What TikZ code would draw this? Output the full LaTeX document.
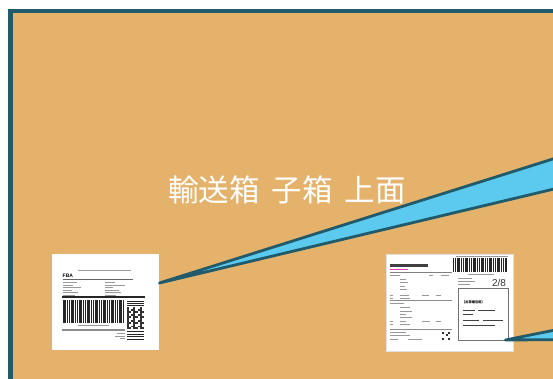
\documentclass[tikz,border=0pt]{standalone}
\usepackage{fontspec}
\setmainfont{Liberation Sans}
\newfontfamily\jpfont{Noto Sans CJK JP}
\definecolor{boxfill}{HTML}{E4B26A}
\definecolor{edgeteal}{HTML}{205A6B}
\definecolor{callblue}{HTML}{5CCAEE}
\tikzset{
  lbl/.style={fill=white, inner sep=0pt, anchor=north west},
  txt/.style={fill=black!40},
  dtxt/.style={fill=black!75},
  callout/.style={fill=callblue, draw=edgeteal, line width=2.8pt, line join=round},
}
\begin{document}
\begin{tikzpicture}[x=1pt,y=-1pt]
\clip (0,0) rectangle (553,378);
\fill[white] (0,0) rectangle (553,378);
% the box, seen from above
\draw[fill=boxfill, draw=edgeteal, line width=4.5pt] (10.25,11) rectangle (600,382);
\node[text=white, font=\jpfont\fontsize{30.5}{32}\selectfont] (title) at (287,190) {輸送箱\hspace{0.4em}子箱\hspace{0.4em}上面};

% label on the left
\node[lbl, minimum width=107pt, minimum height=96pt] (lblA) at (52,254) {};
\begin{scope}[shift={(lblA.north west)}]
  \fill[txt] (26,16) rectangle (79,17.2);
  \node[anchor=west, inner sep=0pt, font=\bfseries\fontsize{5}{5}\selectfont] (fba) at (10.5,22) {FBA};
  \draw[black!60, line width=0.6pt] (11,25.5) -- (81,25.5);
  \foreach \y/\l in {28/14,30.5/10,33/18,35.5/9,38/15,40.5/12}
    \fill[txt] (11,\y) rectangle ++(\l,0.9);
  \foreach \y/\l in {28/10,30.5/20,33/8,35.5/14,38/16,40.5/11}
    \fill[txt] (53,\y) rectangle ++(\l,0.9);
  \fill[black!85] (10,42) rectangle (93,44);
  % barcode
  \foreach \i in {0,...,30}{
    \pgfmathsetmacro\w{0.5+0.35*mod(\i*7+3,4)}
    \fill[black!85] (11+\i*2,46) rectangle ++(\w,23);
  }
  \fill[txt] (26,71) rectangle (57,72.2);
  \fill[black!45] (10,75) rectangle (73,77);
  \foreach \y/\l in {79/8,81.5/10,84/5}
    \fill[txt] (73-\l,\y) rectangle ++(\l,0.9);
  % 2d code
  \foreach \y in {47,49,51,77,79.5,82,84.5}
    \fill[black!85] (75,\y) rectangle (92,\y+1.2);
  \foreach \i in {0,...,7}
    \foreach \j in {0,...,11}{
      \pgfmathtruncatemacro\c{mod(\i*\i+3*\j+\i*\j,3)}
      \ifnum\c=0 \fill[black!80] (75+\i*2.1,53+\j*1.85) rectangle ++(2.1,1.85);\fi
    }
\end{scope}

% label on the right
\node[lbl, draw=black!12, line width=0.4pt, minimum width=127pt, minimum height=97pt] (lblB) at (386,254) {};
\begin{scope}[shift={(lblB.north west)}]
  \fill[dtxt] (4,10) rectangle (42,13);
  \fill[magenta!80] (4,15) rectangle (22,16.3);
  \draw[black!50, line width=0.6pt] (4,18.5) -- (66,18.5);
  \foreach \x/\y/\l in {4/21/10,43/21/4,55/21/8,14/24.5/6,14/28/8,14/31.5/5,14/35/7,
      4/41/3,14/41/9,36/41/7,50/41/5,4/44/3,14/44/10,4/49/14,
      14/53/10,14/56.5/12,14/60/6,14/63/12,4/67/3,14/67/6,36/67/8,50/67/5,4/70/3,14/70/10,
      4/78/16,4/81/20,4/84.5/8,22/84.5/14}
    \fill[txt] (\x,\y) rectangle ++(\l,0.9);
  \draw[black!45, line width=0.5pt] (4,46.5) -- (66,46.5);
  \draw[black!45, line width=0.5pt] (4,75.5) -- (66,75.5);
  \foreach \i in {0,...,3}
    \foreach \j in {0,...,3}{
      \pgfmathtruncatemacro\c{mod(\i*\j+\i+2*\j,3)}
      \ifnum\c=0 \fill[black!80] (56+\i*2,78+\j*2) rectangle ++(2,2);\fi
    }
  % barcode
  \fill[txt] (70,1.5) rectangle (122,2.5);
  \foreach \i in {0,...,26}{
    \pgfmathsetmacro\w{0.5+0.35*mod(\i*5+1,4)}
    \fill[black!85] (67+\i*2,4) rectangle ++(\w,14);
  }
  \fill[txt] (82,20) rectangle (108,21);
  \foreach \y/\l in {23.5/14,26.5/17,29.5/12}
    \fill[txt] (72,\y) rectangle ++(\l,0.9);
  \node[inner sep=0pt, font=\fontsize{10}{10}\selectfont, text=black!80] (pkgno) at (113,28.5) {2/8};
  \draw[black!55, line width=0.5pt] (72,34) rectangle (122,86);
  \node[anchor=west, inner sep=0pt, font=\jpfont\bfseries\fontsize{3.2}{3.2}\selectfont] (usage) at (76,48) {【出荷梱包用】};
  \foreach \x/\y/\l in {77/56/12,92/56/17,77/60/10,77/66/16,97/66/20,77/70.5/32}
    \fill[dtxt] (\x,\y) rectangle ++(\l,1.3);
\end{scope}

% callouts from the labels to the right
\coordinate (endA1) at (575,152);
\coordinate (endA2) at (575,184);
\coordinate (endB1) at (575,326);
\coordinate (endB2) at (575,339.5);
\draw[callout] ([yshift=-29pt]lblA.north east) -- (endA1) -- (endA2) -- cycle;
\draw[callout] ([xshift=-8pt,yshift=-86pt]lblB.north east) -- (endB1) -- (endB2) -- cycle;
\end{tikzpicture}
\end{document}
